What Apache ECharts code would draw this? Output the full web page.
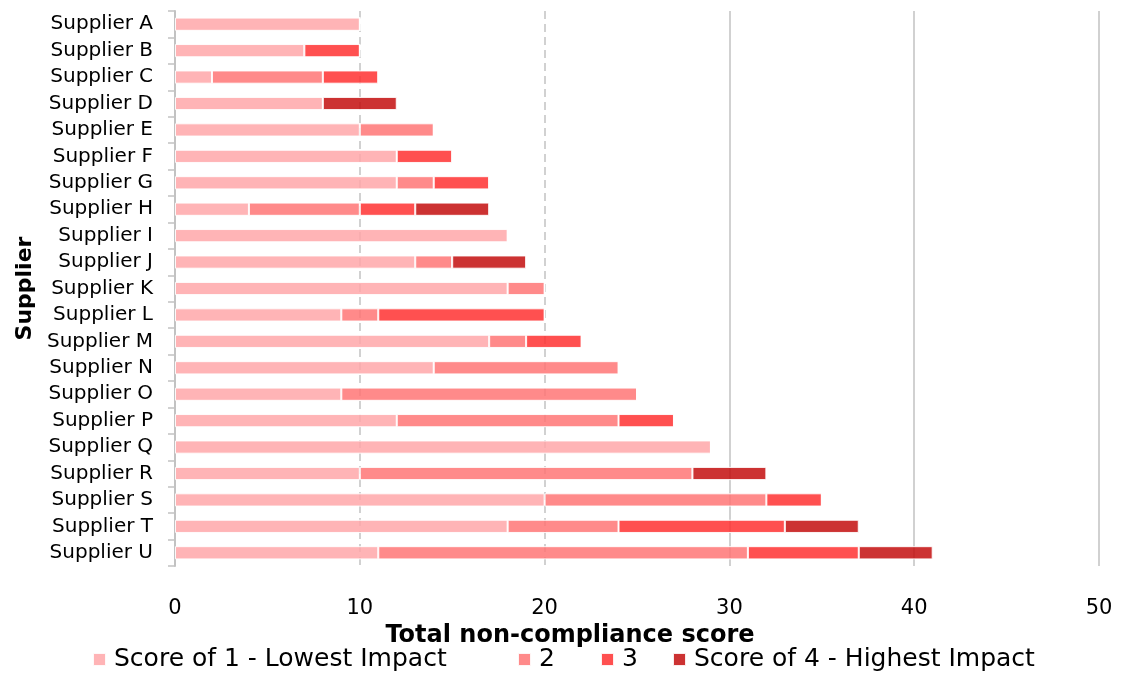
<!DOCTYPE html>
<html>
<head>
<meta charset="utf-8">
<script src="https://cdn.jsdelivr.net/npm/echarts@6/dist/echarts.min.js"></script>
<style>
  html, body { margin: 0; padding: 0; background: #fff; }
  #chart { width: 1122px; height: 675px; }
</style>
</head>
<body>
<div id="chart"></div>
<script>
// Suppliers, top to bottom
const suppliers = ['Supplier A', 'Supplier B', 'Supplier C', 'Supplier D', 'Supplier E', 'Supplier F', 'Supplier G',
  'Supplier H', 'Supplier I', 'Supplier J', 'Supplier K', 'Supplier L', 'Supplier M', 'Supplier N',
  'Supplier O', 'Supplier P', 'Supplier Q', 'Supplier R', 'Supplier S', 'Supplier T', 'Supplier U'];

// Non-compliance score contributed by each impact level
const score1 = [10, 7, 2, 8, 10, 12, 12, 4, 18, 13, 18, 9, 17, 14, 9, 12, 29, 10, 20, 18, 11];
const score2 = [0, 0, 6, 0, 4, 0, 2, 6, 0, 2, 2, 2, 2, 10, 16, 12, 0, 18, 12, 6, 20];
const score3 = [0, 3, 3, 0, 0, 3, 3, 3, 0, 0, 0, 9, 3, 0, 0, 3, 0, 0, 3, 9, 6];
const score4 = [0, 0, 0, 4, 0, 0, 0, 4, 0, 4, 0, 0, 0, 0, 0, 0, 0, 4, 0, 4, 4];

const seriesNames = ['Score of 1 - Lowest Impact', '2', '3', 'Score of 4 - Highest Impact'];
const seriesData = [score1, score2, score3, score4];
const seriesColors = ['rgba(255,167,169,0.85)', 'rgba(255,117,117,0.85)', 'rgba(255,49,49,0.85)', 'rgba(195,14,14,0.85)'];
const legendColors = ['#ffb4b6', '#ff8a8a', '#ff5050', '#cc3232'];
// left edge of each legend entry
const legendLefts = [92, 517, 600, 672];

const xTicks = [0, 10, 20, 30, 40, 50];

const FONT = 'DejaVu Sans';
const GRID_GREY = '#c2c2c2';
const NONE = 'rgba(0,0,0,0)';

const chart = echarts.init(document.getElementById('chart'));

chart.setOption({
  animation: false,
  textStyle: { fontFamily: FONT },
  grid: { left: 175, right: 23, top: 11, bottom: 109, outerBoundsMode: 'none', containLabel: false },
  legend: seriesNames.map((n, i) => ({
    left: legendLefts[i],
    top: 647,
    padding: 0,
    itemWidth: 13,
    itemHeight: 13,
    icon: 'rect',
    textStyle: { fontFamily: FONT, fontSize: 25, color: '#000', padding: [0, 0, 0, 3] },
    data: [{ name: n, itemStyle: { color: legendColors[i] } }]
  })),
  xAxis: [
    {
      type: 'value',
      min: xTicks[0],
      max: xTicks[xTicks.length - 1],
      interval: 10,
      name: 'Total non-compliance score',
      nameLocation: 'middle',
      nameGap: 54,
      nameTextStyle: { fontFamily: FONT, fontSize: 24, fontWeight: 'bold', color: '#000', padding: [0, 134, 0, 0] },
      axisLine: { show: false },
      axisTick: { show: false },
      axisLabel: { margin: 32, fontSize: 21, color: '#000', fontFamily: FONT },
      // dashed lines at 10 and 20
      splitLine: {
        show: true,
        lineStyle: { type: [8, 5], width: 1.5, color: [NONE, GRID_GREY, GRID_GREY, NONE, NONE, NONE] }
      }
    },
    {
      type: 'value',
      min: xTicks[0],
      max: xTicks[xTicks.length - 1],
      interval: 10,
      position: 'bottom',
      axisLine: { show: false },
      axisTick: { show: false },
      axisLabel: { show: false },
      // solid lines at 30, 40 and 50
      splitLine: {
        show: true,
        lineStyle: { type: 'solid', width: 1.5, color: [NONE, NONE, NONE, GRID_GREY, GRID_GREY, GRID_GREY] }
      }
    }
  ],
  yAxis: {
    type: 'category',
    inverse: true,
    data: suppliers,
    name: 'Supplier',
    nameLocation: 'middle',
    nameGap: 137,
    nameRotate: 90,
    nameTextStyle: { fontFamily: FONT, fontSize: 22, fontWeight: 'bold', color: '#000' },
    axisLine: { show: true, lineStyle: { color: GRID_GREY, width: 2 } },
    axisTick: { show: true, length: 7, lineStyle: { color: GRID_GREY, width: 1.5 } },
    axisLabel: { margin: 22, fontSize: 20, color: '#000', fontFamily: FONT }
  },
  series: seriesData.map((d, i) => ({
    name: seriesNames[i],
    type: 'bar',
    stack: 'total',
    xAxisIndex: 0,
    barCategoryGap: '50%',
    data: d,
    itemStyle: { color: seriesColors[i], borderColor: 'rgba(255,255,255,0.9)', borderWidth: 1 }
  }))
});
</script>
</body>
</html>
